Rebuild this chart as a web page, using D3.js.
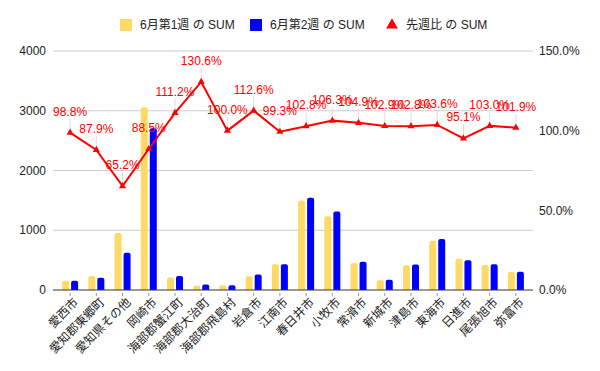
<!DOCTYPE html>
<html>
<head>
<meta charset="utf-8">
<script src="https://cdn.jsdelivr.net/npm/d3@7"></script>
<style>
  body { margin: 0; background: #fff; }
  text { font-family: "Liberation Sans", Arial, "Noto Sans CJK JP", sans-serif; }
</style>
</head>
<body>
<script>
const width = 600
const height = 371
const margins = { top: 51, bottom: 81, left: 53, right: 67 }

const cities = ['愛西市', '愛知郡東郷町', '愛知県その他', '岡崎市', '海部郡蟹江町', '海部郡大治町',
  '海部郡飛島村', '岩倉市', '江南市', '春日井市', '小牧市', '常滑市', '新城市', '津島市',
  '東海市', '日進市', '尾張旭市', '弥富市']
const week1 = [155, 235, 954, 3060, 210, 72, 80, 232, 432, 1500, 1235, 450, 165, 415, 825, 525, 420, 300]
const week2 = [153, 207, 622, 2708, 234, 94, 80, 261, 429, 1542, 1313, 472, 170, 427, 855, 499, 433, 306]
const ratio = [98.8, 87.9, 65.2, 88.5, 111.2, 130.6, 100.0, 112.6, 99.3, 102.8, 106.3, 104.9, 102.9, 102.8, 103.6, 95.1, 103.0, 101.9]
const leftTicks = [0, 1000, 2000, 3000, 4000]
const rightTicks = [0, 50, 100, 150]
const seriesNames = ['6月第1週 の SUM', '6月第2週 の SUM', '先週比 の SUM']

const colors = { w1: '#ffd966', w2: '#0000ff', line: '#ff0000' }

const svg = d3.select('body').append('svg')
  .attr('width', width)
  .attr('height', height)

const x0 = margins.left
const x1 = width - margins.right
const yBottom = height - margins.bottom

const xScale = d3.scaleBand()
  .domain(cities)
  .range([x0 + 4, x1 - 4])
const yScale = d3.scaleLinear()
  .domain([0, 4000])
  .range([yBottom, margins.top])
const rScale = d3.scaleLinear()
  .domain([0, 150])
  .range([yBottom, margins.top])

// gridlines
svg.append('g').selectAll('line')
  .data(leftTicks.slice(1))
  .enter().append('line')
  .attr('x1', x0).attr('x2', x1)
  .attr('y1', d => yScale(d)).attr('y2', d => yScale(d))
  .attr('stroke', '#cccccc').attr('stroke-width', 1)

// left axis labels
svg.append('g').selectAll('text')
  .data(leftTicks)
  .enter().append('text')
  .attr('x', x0 - 7)
  .attr('y', d => yScale(d))
  .attr('dy', '0.35em')
  .attr('text-anchor', 'end')
  .attr('font-size', 12)
  .attr('fill', '#222')
  .text(d => d)

// right axis labels
svg.append('g').selectAll('text')
  .data(rightTicks)
  .enter().append('text')
  .attr('x', x1 + 6)
  .attr('y', d => rScale(d))
  .attr('dy', '0.35em')
  .attr('text-anchor', 'start')
  .attr('font-size', 12)
  .attr('fill', '#222')
  .text(d => d.toFixed(1) + '%')

// bars
const bw = 7
function barPath(x, y, w, h, r) {
  if (h < r) r = h
  return `M${x},${y + h}V${y + r}Q${x},${y} ${x + r},${y}H${x + w - r}Q${x + w},${y} ${x + w},${y + r}V${y + h}Z`
}
const cx = c => xScale(c) + xScale.bandwidth() / 2

svg.append('g').selectAll('path')
  .data(cities)
  .enter().append('path')
  .attr('d', (c, i) => barPath(cx(c) - bw - 1, yScale(week1[i]), bw, yBottom - yScale(week1[i]), 2))
  .attr('fill', colors.w1)
svg.append('g').selectAll('path')
  .data(cities)
  .enter().append('path')
  .attr('d', (c, i) => barPath(cx(c) + 1, yScale(week2[i]), bw, yBottom - yScale(week2[i]), 2))
  .attr('fill', colors.w2)

// baseline
svg.append('line')
  .attr('x1', x0).attr('x2', x1)
  .attr('y1', yBottom).attr('y2', yBottom)
  .attr('stroke', '#333').attr('stroke-width', 1)

// tick marks
svg.append('g').selectAll('line')
  .data(cities)
  .enter().append('line')
  .attr('x1', cx).attr('x2', cx)
  .attr('y1', yBottom + 3).attr('y2', yBottom + 6)
  .attr('stroke', '#999')

// x labels
svg.append('g').selectAll('text')
  .data(cities)
  .enter().append('text')
  .attr('transform', c => `translate(${cx(c) + 6},${yBottom + 10}) rotate(-45)`)
  .attr('text-anchor', 'end')
  .attr('dy', '0.35em')
  .attr('font-size', 12)
  .attr('fill', '#222')
  .style('font-family', '"Noto Sans CJK JP", sans-serif')
  .text(c => c)

// leader lines for the labels
svg.append('g').selectAll('line')
  .data(cities)
  .enter().append('line')
  .attr('x1', cx).attr('x2', cx)
  .attr('y1', (c, i) => rScale(ratio[i]) - 14).attr('y2', (c, i) => rScale(ratio[i]) - 3)
  .attr('stroke', '#dddddd').attr('stroke-width', 1)

// ratio line
const line = d3.line()
  .x((d, i) => cx(cities[i]))
  .y(d => rScale(d))
svg.append('path')
  .datum(ratio)
  .attr('d', line)
  .attr('fill', 'none')
  .attr('stroke', colors.line)
  .attr('stroke-width', 2)

const tri = d3.symbol().type(d3.symbolTriangle).size(22)
svg.append('g').selectAll('path')
  .data(ratio)
  .enter().append('path')
  .attr('transform', (d, i) => `translate(${cx(cities[i])},${rScale(d)})`)
  .attr('d', tri)
  .attr('fill', colors.line)

// data labels
svg.append('g').selectAll('text')
  .data(ratio)
  .enter().append('text')
  .attr('x', (d, i) => cx(cities[i]))
  .attr('y', d => rScale(d) - 17)
  .attr('text-anchor', 'middle')
  .attr('font-size', 12)
  .attr('fill', colors.line)
  .text(d => d.toFixed(1) + '%')

// legend
const legend = svg.append('g').attr('transform', 'translate(0,25)')
const legendX = [120, 250, 386]
legend.selectAll('rect')
  .data([colors.w1, colors.w2])
  .enter().append('rect')
  .attr('x', (d, i) => legendX[i])
  .attr('y', -6)
  .attr('width', 12).attr('height', 12)
  .attr('fill', d => d)
legend.append('path')
  .attr('transform', `translate(${legendX[2] + 6},0)`)
  .attr('d', d3.symbol().type(d3.symbolTriangle).size(60))
  .attr('fill', colors.line)
legend.selectAll('text')
  .data(seriesNames)
  .enter().append('text')
  .attr('x', (d, i) => legendX[i] + 20)
  .attr('dy', '0.35em')
  .attr('font-size', 12)
  .attr('fill', '#222')
  .text(d => d)
</script>
</body>
</html>
